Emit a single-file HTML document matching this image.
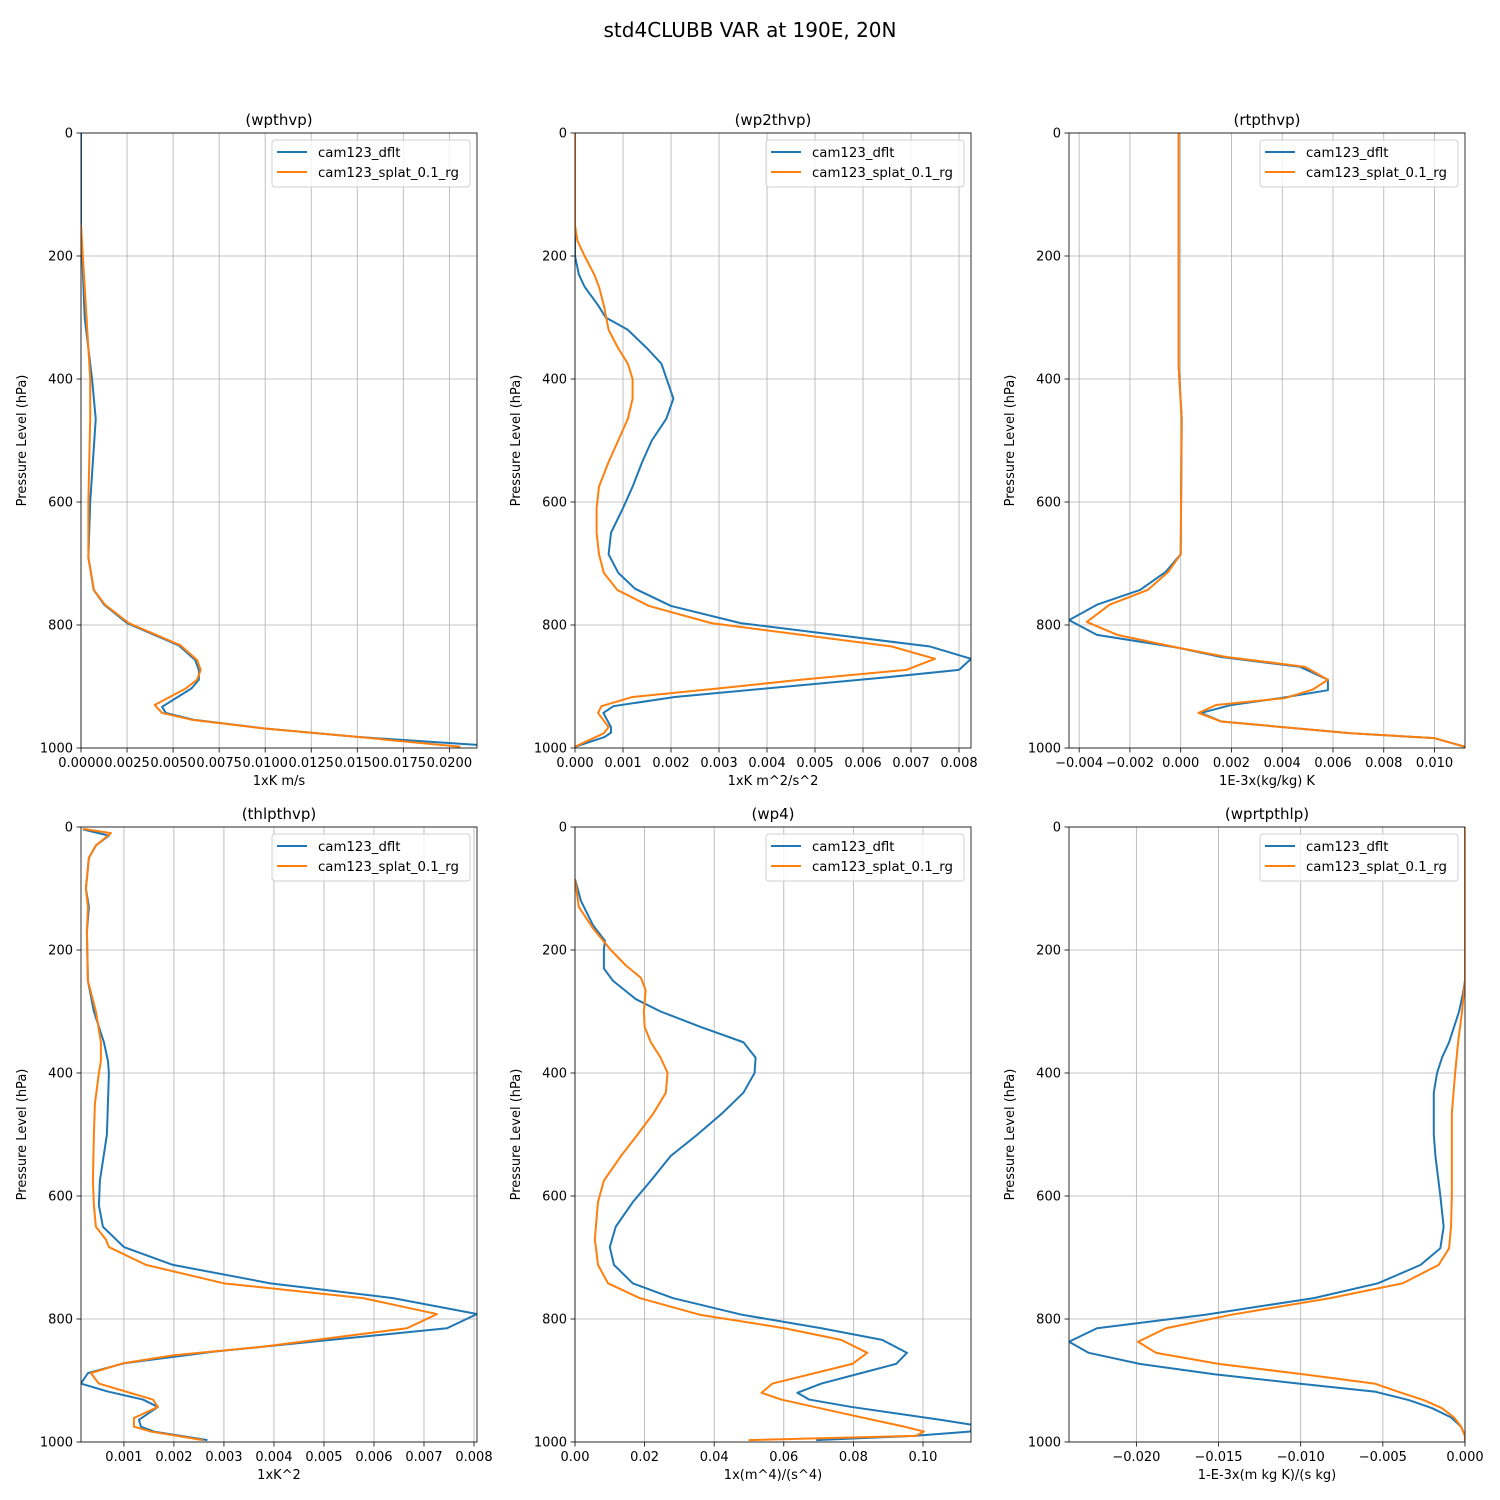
<!DOCTYPE html>
<html><head><meta charset="utf-8"><style>
html,body{margin:0;padding:0;background:#fff;}
svg{display:block;font-family:"DejaVu Sans","Liberation Sans",sans-serif;}
</style></head><body>
<svg id="fig" width="1500" height="1500" viewBox="0 0 1500 1500" xmlns="http://www.w3.org/2000/svg">
<rect width="1500" height="1500" fill="#fff"/>
<text x="750" y="37" text-anchor="middle" font-size="20">std4CLUBB VAR at 190E, 20N</text>
</svg>
<script>
// ---- data (pressure hPa / values) ----
const p1Blue=[0,150,300,400,465,600,690,743,767,797,833,857,873,889,903,933,943,954,968,982,995];
const v1Blue=[0,0,0.0002,0.0006,0.0008,0.0005,0.0004,0.00069,0.00126,0.0025,0.0053,0.0062,0.0064,0.0064,0.006,0.0044,0.0046,0.0061,0.0099,0.015,0.0215];
const p1Orange=[150,200,300,400,465,600,690,743,767,797,833,857,873,889,903,930,943,954,968,982,998];
const v1Orange=[0,0.0001,0.0003,0.0005,0.0005,0.0004,0.0004,0.0007,0.0013,0.0026,0.0054,0.0063,0.0065,0.0063,0.0057,0.004,0.0044,0.006,0.0099,0.015,0.0206];

const p2Blue=[0,200,230,250,280,300,320,350,375,432,465,500,535,575,610,650,685,715,741,769,797,835,855,873,885,917,932,943,966,975,982,998];
const v2Blue=[0,0,0.00008,0.0002,0.00048,0.00064,0.0011,0.0015,0.0018,0.00205,0.0019,0.0016,0.0014,0.0012,0.001,0.00075,0.0007,0.0009,0.00125,0.002,0.00345,0.0074,0.00825,0.008,0.0065,0.00208,0.0008,0.00059,0.00075,0.00075,0.00062,0];
const p2Orange=[0,150,175,200,230,250,280,320,350,375,400,432,465,500,535,575,610,650,685,715,743,769,797,835,855,873,889,903,917,932,943,966,976,998];
const v2Orange=[0,0,0.00005,0.0002,0.0004,0.0005,0.0006,0.0007,0.0009,0.0011,0.0012,0.0012,0.0011,0.0009,0.0007,0.0005,0.00045,0.00045,0.0005,0.0006,0.00088,0.00154,0.00284,0.0066,0.0075,0.0069,0.0047,0.003,0.0012,0.00055,0.00048,0.0007,0.0006,0];

const p3Blue=[0,380,465,685,714,743,767,792,816,837,852,868,889,906,919,930,943,957,976,984,998];
const v3Blue=[-0.00008,-0.00008,0.00004,0,-0.0006,-0.0016,-0.0033,-0.0044,-0.0033,-0.0001,0.0016,0.0047,0.0058,0.0058,0.0039,0.002,0.0008,0.0016,0.0067,0.01,0.0112];
const p3Orange=[0,380,465,685,714,743,767,795,816,837,852,868,889,905,919,930,943,957,976,984,998];
const v3Orange=[-0.00008,-0.00008,0.00004,0,-0.0005,-0.0013,-0.0028,-0.0037,-0.0025,-0.0001,0.0018,0.0049,0.0058,0.0052,0.0041,0.0014,0.0007,0.0016,0.0067,0.01,0.0112];

const p4Blue=[4,14,30,50,100,130,170,250,300,350,380,400,450,500,575,615,650,683,712,742,766,792,815,834,853,872,888,905,918,931,943,964,975,983,997];
const v4Blue=[0.00018,0.0007,0.00044,0.0003,0.00024,0.0003,0.00026,0.00028,0.0004,0.0006,0.00068,0.0007,0.00068,0.00066,0.00052,0.0005,0.00058,0.001,0.00198,0.00393,0.00638,0.00806,0.00746,0.00513,0.0028,0.001,0.00028,0.00014,0.00068,0.00138,0.00168,0.0013,0.00134,0.0016,0.00267];
const p4Orange=[3,10,30,50,100,130,170,250,300,350,380,400,450,500,575,615,650,671,683,712,742,766,792,815,845,859,872,888,905,931,943,961,975,983,997];
const v4Orange=[0.00018,0.00074,0.00044,0.0003,0.00024,0.00028,0.00026,0.00028,0.00044,0.00054,0.00054,0.0005,0.00042,0.0004,0.00038,0.0004,0.00044,0.00064,0.0007,0.00144,0.003,0.00578,0.00726,0.00666,0.00379,0.002,0.00098,0.00034,0.0005,0.00158,0.00168,0.0012,0.0012,0.00154,0.00258];

const p5Blue=[85,120,160,185,200,230,250,280,300,325,350,375,400,432,465,500,535,575,610,650,683,712,742,766,793,815,834,855,873,888,905,920,931,943,964,972,983,990,997];
const v5Blue=[0,0.0017,0.0052,0.0086,0.0083,0.0083,0.0109,0.0175,0.0246,0.0361,0.0484,0.0519,0.0516,0.0484,0.0424,0.0352,0.0275,0.0218,0.0166,0.0117,0.01,0.0112,0.0166,0.0281,0.0479,0.0708,0.0883,0.0954,0.0923,0.0822,0.0708,0.0639,0.0673,0.0794,0.1052,0.114,0.1138,0.0974,0.0693];
const p5Orange=[85,130,165,200,225,245,265,300,325,350,375,400,432,465,500,535,575,610,650,671,683,712,742,766,793,815,834,855,873,905,920,931,955,975,983,990,997];
const v5Orange=[0,0.0011,0.0052,0.0103,0.0146,0.0189,0.0203,0.0198,0.02,0.0218,0.0246,0.0266,0.0261,0.0226,0.018,0.0132,0.0083,0.0066,0.006,0.0057,0.006,0.0066,0.0095,0.0186,0.0358,0.0602,0.0765,0.084,0.0797,0.0567,0.0536,0.0593,0.0783,0.0946,0.1003,0.098,0.0499];

const p6Blue=[0,250,270,300,350,375,400,432,500,535,600,650,685,712,742,766,793,815,837,855,873,890,905,918,932,945,960,975,990,998];
const v6Blue=[0,0,-0.00012,-0.00036,-0.00097,-0.0014,-0.0017,-0.0019,-0.0019,-0.0018,-0.0015,-0.0013,-0.0015,-0.0027,-0.0053,-0.0092,-0.0158,-0.0224,-0.0241,-0.0229,-0.0198,-0.0152,-0.0101,-0.0055,-0.0034,-0.002,-0.00085,-0.00024,0,0];
const p6Orange=[0,250,300,350,400,465,535,600,650,685,712,742,766,793,815,837,855,873,890,905,918,932,945,960,975,990,998];
const v6Orange=[0,0,-0.00018,-0.00042,-0.0006,-0.0008,-0.0008,-0.0008,-0.00085,-0.00097,-0.0016,-0.0038,-0.0082,-0.0142,-0.0182,-0.0199,-0.0188,-0.015,-0.0098,-0.0055,-0.0041,-0.0025,-0.0014,-0.00067,-0.00024,0,0];

const titles=["(wpthvp)","(wp2thvp)","(rtpthvp)","(thlpthvp)","(wp4)","(wprtpthlp)"];
const xLabels=["1xK m/s","1xK m^2/s^2","1E-3x(kg/kg) K","1xK^2","1x(m^4)/(s^4)","1-E-3x(m kg K)/(s kg)"];
const xDomains=[[0,0.0215],[0,0.00825],[-0.0044,0.0112],[0.000142,0.00806],[0,0.1138],[-0.0241,0]];
const xTicks=[[0,0.0025,0.005,0.0075,0.01,0.0125,0.015,0.0175,0.02],[0,0.001,0.002,0.003,0.004,0.005,0.006,0.007,0.008],[-0.004,-0.002,0,0.002,0.004,0.006,0.008,0.01],[0.001,0.002,0.003,0.004,0.005,0.006,0.007,0.008],[0,0.02,0.04,0.06,0.08,0.10],[-0.02,-0.015,-0.01,-0.005,0]];
const xTickLabels=[["0.0000","0.0025","0.0050","0.0075","0.0100","0.0125","0.0150","0.0175","0.0200"],["0.000","0.001","0.002","0.003","0.004","0.005","0.006","0.007","0.008"],["−0.004","−0.002","0.000","0.002","0.004","0.006","0.008","0.010"],["0.001","0.002","0.003","0.004","0.005","0.006","0.007","0.008"],["0.00","0.02","0.04","0.06","0.08","0.10"],["−0.020","−0.015","−0.010","−0.005","0.000"]];
const yTicks=[0,200,400,600,800,1000];
const seriesNames=["cam123_dflt","cam123_splat_0.1_rg"];
const colors=["#1f77b4","#ff7f0e"];
const allP=[[p1Blue,p1Orange],[p2Blue,p2Orange],[p3Blue,p3Orange],[p4Blue,p4Orange],[p5Blue,p5Orange],[p6Blue,p6Orange]];
const allV=[[v1Blue,v1Orange],[v2Blue,v2Orange],[v3Blue,v3Orange],[v4Blue,v4Orange],[v5Blue,v5Orange],[v6Blue,v6Orange]];

const NS="http://www.w3.org/2000/svg";
const svg=document.getElementById('fig');
function mk(tag,attrs,parent){const e=document.createElementNS(NS,tag);for(const k in attrs)e.setAttribute(k,attrs[k]);(parent||svg).appendChild(e);return e;}
const lefts=[81,575,1069], tops=[133,827], W=396, H=615;

for(let i=0;i<6;i++){
  const L=lefts[i%3], T=tops[Math.floor(i/3)];
  const dom=xDomains[i];
  const xs=v=>L+(v-dom[0])/(dom[1]-dom[0])*W;
  const ys=p=>T+p/1000*H;
  const g=mk('g',{});
  
  
  const cp=mk('clipPath',{id:'c'+i},g);
  mk('rect',{x:L,y:T,width:W,height:H},cp);
  xTicks[i].forEach((t,k)=>{
    const x=xs(t);
    const gl=mk('line',{x1:x,x2:x,y1:T,y2:T+H,stroke:'#b0b0b0','stroke-width':0.8},g);
    
    
    mk('line',{x1:x,x2:x,y1:T+H,y2:T+H+4.5,stroke:'#000','stroke-width':0.8},g);
    const tl=mk('text',{x:x,y:T+H+19,'text-anchor':'middle','font-size':13},g);
    tl.textContent=xTickLabels[i][k];
    
    
  });
  yTicks.forEach(t=>{
    const y=ys(t);
    const gl=mk('line',{x1:L,x2:L+W,y1:y,y2:y,stroke:'#b0b0b0','stroke-width':0.8},g);
    
    
    mk('line',{x1:L-4.5,x2:L,y1:y,y2:y,stroke:'#000','stroke-width':0.8},g);
    const tl=mk('text',{x:L-8,y:y+4.5,'text-anchor':'end','font-size':13},g);
    tl.textContent=String(t);
    
    
  });
  for(let s=0;s<2;s++){
    const P=allP[i][s], V=allV[i][s];
    const pts=P.map((p,k)=>xs(V[k]).toFixed(2)+','+ys(p).toFixed(2)).join(' ');
    const pl=mk('polyline',{points:pts,fill:'none',stroke:colors[s],'stroke-width':2,'clip-path':'url(#c'+i+')','stroke-linejoin':'round'},g);
    
    
  }
  const fr=mk('rect',{x:L,y:T,width:W,height:H,fill:'none',stroke:'#000','stroke-width':0.8},g);
  
  
  const ti=mk('text',{x:L+W/2,y:T-8,'text-anchor':'middle','font-size':15},g);
  ti.textContent=titles[i];
  
  
  const xl=mk('text',{x:L+W/2,y:T+H+37,'text-anchor':'middle','font-size':13},g);
  xl.textContent=xLabels[i];
  
  
  const yx=L-55, yy=T+H/2;
  const yl=mk('text',{x:yx,y:yy,'text-anchor':'middle','font-size':13,transform:'rotate(-90 '+yx+' '+yy+')'},g);
  yl.textContent='Pressure Level (hPa)';
  
  
  const lg=mk('g',{},g);
  
  
  const bx=L+W-205, by=T+7;
  mk('rect',{x:bx,y:by,width:198,height:47,rx:3,fill:'#fff','fill-opacity':0.8,stroke:'#d0d0d0','stroke-width':1},lg);
  for(let s=0;s<2;s++){
    const ey=by+12+s*20;
    const ln=mk('line',{x1:bx+5,x2:bx+35,y1:ey,y2:ey,stroke:colors[s],'stroke-width':2},lg);
    
    
    const lt=mk('text',{x:bx+46,y:ey+5,'font-size':13.3},lg);
    lt.textContent=seriesNames[s];
    
    
  }
}
</script>
</body></html>
